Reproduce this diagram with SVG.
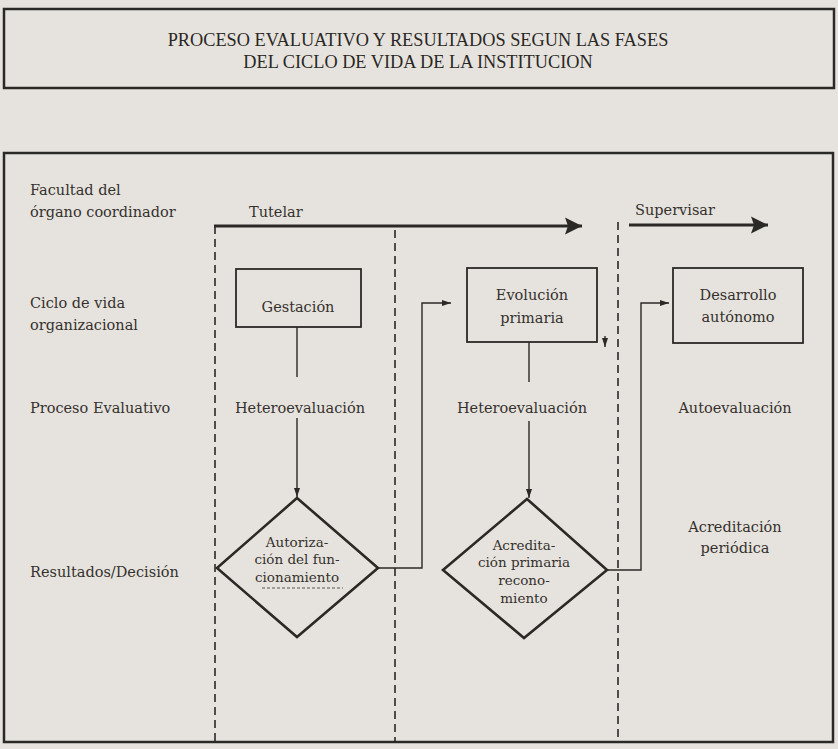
<svg xmlns="http://www.w3.org/2000/svg" width="838" height="749" viewBox="0 0 838 749">
  <style>
    .frame { fill: none; stroke: #2b2926; stroke-width: 2.5; }
    .box { fill: none; stroke: #2b2926; stroke-width: 1.8; }
    .dia { fill: none; stroke: #2b2926; stroke-width: 2.6; stroke-linejoin: miter; }
    .lane { fill: none; stroke: #2b2926; stroke-width: 1.6; stroke-dasharray: 8 5; }
    .conn { fill: none; stroke: #2b2926; stroke-width: 1.4; }
    .bold { fill: none; stroke: #2b2926; stroke-width: 2.8; }
    .title { font-family: "Liberation Serif", "Times New Roman", serif; font-size: 18.3px; fill: #2a2724; text-anchor: middle; }
    .lbl { font-family: "DejaVu Serif", "Liberation Serif", serif; font-size: 14.5px; fill: #35312d; }
    .ctr { text-anchor: middle; }
    .sm { font-size: 13.5px; }
  </style>
  <defs>
    <marker id="big" markerUnits="userSpaceOnUse" markerWidth="22" markerHeight="20" viewBox="0 0 22 20" refX="19" refY="10" orient="auto">
      <path d="M2,1.5 L19,10 L2,18.5 L5,10 Z" fill="#2b2926"/>
    </marker>
    <marker id="sm" markerUnits="userSpaceOnUse" markerWidth="10" markerHeight="8" viewBox="0 0 10 8" refX="9" refY="4" orient="auto">
      <path d="M0,1 L9,4 L0,7 Z" fill="#2b2926"/>
    </marker>
  </defs>

  <rect x="0" y="0" width="838" height="749" fill="#e6e3de"/>

  <g id="title">
    <rect class="frame" x="4" y="9" width="830" height="79"/>
    <text class="title" x="418" y="46">PROCESO EVALUATIVO Y RESULTADOS SEGUN LAS FASES</text>
    <text class="title" x="418" y="68">DEL CICLO DE VIDA DE LA INSTITUCION</text>
  </g>

  <g id="frame">
    <rect class="frame" x="4" y="153" width="829" height="589"/>
  </g>

  <g id="row-labels" class="lbl">
    <text x="30" y="195">Facultad del</text>
    <text x="30" y="217">órgano coordinador</text>
    <text x="30" y="308">Ciclo de vida</text>
    <text x="30" y="330">organizacional</text>
    <text x="30" y="413">Proceso Evaluativo</text>
    <text x="30" y="577">Resultados/Decisión</text>
  </g>

  <g id="lanes">
    <line class="lane" x1="215" y1="226" x2="215" y2="742"/>
    <line class="lane" x1="395" y1="230" x2="395" y2="742"/>
    <line class="lane" x1="618" y1="222" x2="618" y2="742"/>
  </g>

  <g id="tutelar">
    <text class="lbl" x="249" y="217">Tutelar</text>
  </g>
  <g id="supervisar">
    <text class="lbl" x="635" y="215">Supervisar</text>
  </g>

  <g id="gestacion">
    <rect class="box" x="236" y="269" width="125" height="58"/>
    <text class="lbl ctr" x="298" y="312">Gestación</text>
  </g>
  <g id="evolucion">
    <rect class="box" x="467" y="268" width="130" height="74"/>
    <text class="lbl ctr" x="532" y="300">Evolución</text>
    <text class="lbl ctr" x="532" y="323">primaria</text>
  </g>
  <g id="desarrollo">
    <rect class="box" x="673" y="268" width="130" height="75"/>
    <text class="lbl ctr" x="738" y="300">Desarrollo</text>
    <text class="lbl ctr" x="738" y="322">autónomo</text>
  </g>

  <g id="hetero1">
    <text class="lbl ctr" x="300" y="413">Heteroevaluación</text>
  </g>
  <g id="hetero2">
    <text class="lbl ctr" x="522" y="413">Heteroevaluación</text>
  </g>
  <g id="auto">
    <text class="lbl ctr" x="735" y="413">Autoevaluación</text>
  </g>
  <g id="acreditacion-periodica">
    <text class="lbl ctr" x="735" y="532">Acreditación</text>
    <text class="lbl ctr" x="735" y="553">periódica</text>
  </g>

  <g id="autorizacion">
    <polygon class="dia" points="297,498 378,568 297,637 217,568"/>
    <text class="lbl ctr sm" x="297" y="547">Autoriza-</text>
    <text class="lbl ctr sm" x="297" y="564">ción del fun-</text>
    <text class="lbl ctr sm" x="297" y="582">cionamiento</text>
    <line x1="262" y1="588" x2="343" y2="588" stroke="#5a5550" stroke-width="1" stroke-dasharray="3 2"/>
  </g>
  <g id="acreditacion-primaria">
    <polygon class="dia" points="527,499 607,570 524,638 443,570"/>
    <text class="lbl ctr sm" x="524" y="550">Acredita-</text>
    <text class="lbl ctr sm" x="524" y="567">ción primaria</text>
    <text class="lbl ctr sm" x="524" y="585">recono-</text>
    <text class="lbl ctr sm" x="524" y="603">miento</text>
  </g>

  <g id="connectors">
    <line class="bold" x1="214" y1="226" x2="582" y2="226" marker-end="url(#big)"/>
    <line class="bold" x1="629" y1="225" x2="768" y2="225" marker-end="url(#big)"/>
    <line class="conn" x1="297" y1="327" x2="297" y2="377"/>
    <line class="conn" x1="297" y1="418" x2="297" y2="497" marker-end="url(#sm)"/>
    <line class="conn" x1="529" y1="342" x2="529" y2="382"/>
    <line class="conn" x1="529" y1="421" x2="529" y2="498" marker-end="url(#sm)"/>
    <path class="conn" d="M378,568 H422 V303 H451" marker-end="url(#sm)"/>
    <path class="conn" d="M607,570 H641 V303 H669" marker-end="url(#sm)"/>
    <line class="conn" x1="605" y1="336" x2="605" y2="347" stroke-width="1" marker-end="url(#sm)"/>
  </g>
</svg>
